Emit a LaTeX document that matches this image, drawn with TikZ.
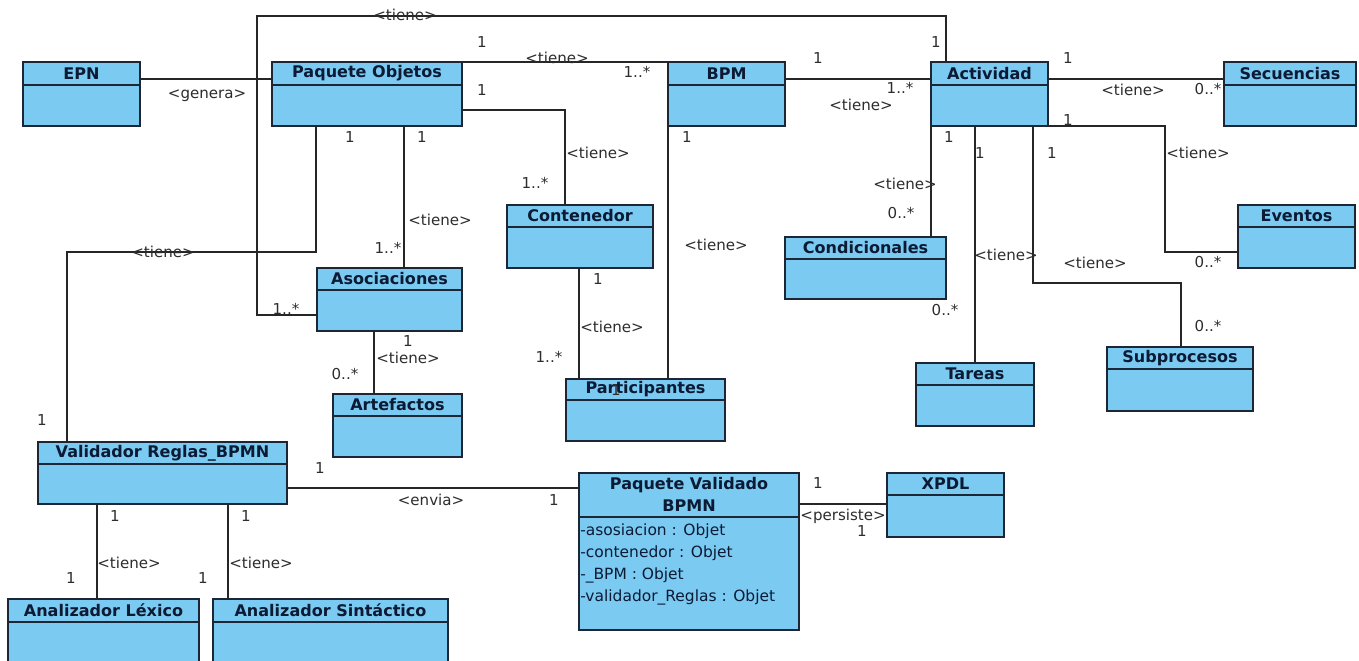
\documentclass[tikz,border=0pt]{standalone}
\usepackage{fontspec}
\setmainfont{DejaVu Sans}
\usetikzlibrary{calc}
\definecolor{clsfill}{RGB}{122,202,242}
\definecolor{clsdraw}{RGB}{28,38,52}
\definecolor{ttlcol}{RGB}{12,26,52}
\definecolor{lblcol}{RGB}{45,45,45}
\newcommand{\uclass}[7]{%
  \node[cls, minimum width={(#4-#2)*0.025cm}, minimum height={(#5-#3)*0.025cm}] (#1) at (#2,#3) {};
  \draw[clsline] (#2,#6) -- (#4,#6);
  \node[ttl] (#1-t) at ({(#2+#4)/2},{(#3+#6)/2}) {#7};
}
\newcommand{\lbl}[4]{\node[lbl] (#1) at (#2,#3) {#4};}
\begin{document}
\begin{tikzpicture}[x=0.025cm, y=-0.025cm,
  cls/.style={draw=clsdraw, fill=clsfill, line width=1.4pt, anchor=north west, inner sep=0pt, outer sep=0pt},
  clsline/.style={draw=clsdraw, line width=1.3pt},
  ttl/.style={font=\fontsize{11.4}{15.6}\selectfont\bfseries, text=ttlcol, inner sep=0pt},
  lbl/.style={font=\fontsize{10.7}{12}\selectfont, text=lblcol, inner sep=0pt},
  attr/.style={font=\fontsize{11}{13}\selectfont, text=ttlcol, inner sep=0pt, anchor=west},
  conn/.style={draw=black!85, line width=1.15pt}]
\clip (0,0) rectangle (1359,660);
\fill[white] (0,0) rectangle (1359,660);

% bend points
\coordinate (b2) at (257,16);
\coordinate (b4) at (565,110);
\coordinate (b7) at (1165,252);
\coordinate (b8) at (1181,283);
\coordinate (b14) at (67,252);

% classes
\uclass{epn}{23}{62}{140}{126}{85}{EPN}
\uclass{po}{272}{62}{462}{126}{85}{Paquete Objetos}
\uclass{bpm}{668}{62}{785}{126}{85}{BPM}
\uclass{act}{931}{62}{1048}{126}{85}{Actividad}
\uclass{sec}{1224}{62}{1356}{126}{85}{Secuencias}
\uclass{cont}{507}{205}{653}{268}{227}{Contenedor}
\uclass{aso}{317}{268}{462}{331}{290}{Asociaciones}
\uclass{art}{333}{394}{462}{457}{416}{Artefactos}
\uclass{par}{566}{379}{725}{441}{400}{Participantes}
\uclass{cond}{785}{237}{946}{299}{259}{Condicionales}
\uclass{tar}{916}{363}{1034}{426}{385}{Tareas}
\uclass{eve}{1238}{205}{1355}{268}{227}{Eventos}
\uclass{sub}{1107}{347}{1253}{411}{369}{Subprocesos}
\uclass{val}{38}{442}{287}{504}{464}{Validador Reglas\_BPMN}
\uclass{lex}{8}{599}{199}{675}{622}{Analizador Léxico}
\uclass{sin}{213}{599}{448}{675}{622}{Analizador Sintáctico}
\uclass{xpdl}{887}{473}{1004}{537}{495}{XPDL}

\node[cls, minimum width={220*0.025cm}, minimum height={157*0.025cm}] (pv) at (579,473) {};
\draw[clsline] (579,517) -- (799,517);
\node[ttl, align=center] (pv-t) at (689,494) {Paquete Validado\\BPMN};
\node[attr] (pv-a1) at (580,531) {-asosiacion : Objet};
\node[attr] (pv-a2) at (580,553) {-contenedor : Objet};
\node[attr] (pv-a3) at (580,575) {-\_BPM : Objet};
\node[attr] (pv-a4) at (580,597) {-validador\_Reglas : Objet};

% connectors
\draw[conn] (epn.east |- 0,79) -- (po.west |- 0,79);
\draw[conn] (aso.west |- 0,315) -| (b2) -| (act.north -| 946,0);
\draw[conn] (po.north east) -- (bpm.north west);
\draw[conn] (po.east |- b4) -- (b4) -- (cont.north -| b4);
\draw[conn] (bpm.east |- 0,79) -- (act.west |- 0,79);
\draw[conn] (act.east |- 0,79) -- (sec.west |- 0,79);
\draw[conn] (act.south east) -| (b7) -- (eve.west |- b7);
\draw[conn] (act.south -| 1033,0) |- (b8) -- (sub.north -| b8);
\draw[conn] (act.south -| 975,0) -- (tar.north -| 975,0);
\draw[conn] (act.south -| 931,0) -- (cond.north -| 931,0);
\draw[conn] (bpm.south west) -- (par.north -| bpm.south west);
\draw[conn] (cont.south -| 579,0) -- (par.north -| 579,0);
\draw[conn] (po.south -| 404,0) -- (aso.north -| 404,0);
\draw[conn] (po.south -| 316,0) |- (b14) -- (val.north -| b14);
\draw[conn] (aso.south -| 374,0) -- (art.north -| 374,0);
\draw[conn] (val.east |- 0,488) -- (pv.west |- 0,488);
\draw[conn] (pv.east |- 0,504) -- (xpdl.west |- 0,504);
\draw[conn] (val.south -| 97,0) -- (lex.north -| 97,0);
\draw[conn] (val.south -| 228,0) -- (sin.north -| 228,0);

% labels
\lbl{l1}{207}{96}{<genera>}
\lbl{l2}{405}{15}{<tiene>}
\lbl{l3}{286}{309}{1..*}
\lbl{l4}{936}{42}{1}
\lbl{l5}{557}{58}{<tiene>}
\lbl{l6}{482}{42}{1}
\lbl{l7}{637}{72}{1..*}
\lbl{l8}{598}{153}{<tiene>}
\lbl{l9}{482}{90}{1}
\lbl{l10}{535}{183}{1..*}
\lbl{l11}{861}{105}{<tiene>}
\lbl{l12}{818}{58}{1}
\lbl{l13}{900}{88}{1..*}
\lbl{l14}{1133}{90}{<tiene>}
\lbl{l15}{1068}{58}{1}
\lbl{l16}{1208}{89}{0..*}
\lbl{l17}{1198}{153}{<tiene>}
\lbl{l18}{1068}{120}{1}
\lbl{l19}{1208}{262}{0..*}
\lbl{l20}{1095}{263}{<tiene>}
\lbl{l21}{1052}{153}{1}
\lbl{l22}{1208}{326}{0..*}
\lbl{l23}{1006}{255}{<tiene>}
\lbl{l24}{980}{153}{1}
\lbl{l25}{905}{184}{<tiene>}
\lbl{l26}{949}{137}{1}
\lbl{l27}{901}{213}{0..*}
\lbl{l28}{945}{310}{0..*}
\lbl{l29}{716}{245}{<tiene>}
\lbl{l30}{687}{137}{1}
\lbl{l31}{616}{390}{1}
\lbl{l32}{598}{279}{1}
\lbl{l33}{612}{327}{<tiene>}
\lbl{l34}{549}{357}{1..*}
\lbl{l35}{422}{137}{1}
\lbl{l36}{440}{220}{<tiene>}
\lbl{l37}{388}{248}{1..*}
\lbl{l38}{163}{252}{<tiene>}
\lbl{l39}{350}{137}{1}
\lbl{l40}{42}{420}{1}
\lbl{l41}{408}{341}{1}
\lbl{l42}{408}{358}{<tiene>}
\lbl{l43}{345}{374}{0..*}
\lbl{l44}{431}{500}{<envia>}
\lbl{l45}{554}{500}{1}
\lbl{l46}{320}{468}{1}
\lbl{l47}{843}{516}{<persiste>}
\lbl{l48}{818}{483}{1}
\lbl{l49}{862}{531}{1}
\lbl{l50}{115}{516}{1}
\lbl{l51}{129}{563}{<tiene>}
\lbl{l52}{71}{578}{1}
\lbl{l53}{246}{516}{1}
\lbl{l54}{261}{563}{<tiene>}
\lbl{l55}{203}{578}{1}
\end{tikzpicture}
\end{document}
